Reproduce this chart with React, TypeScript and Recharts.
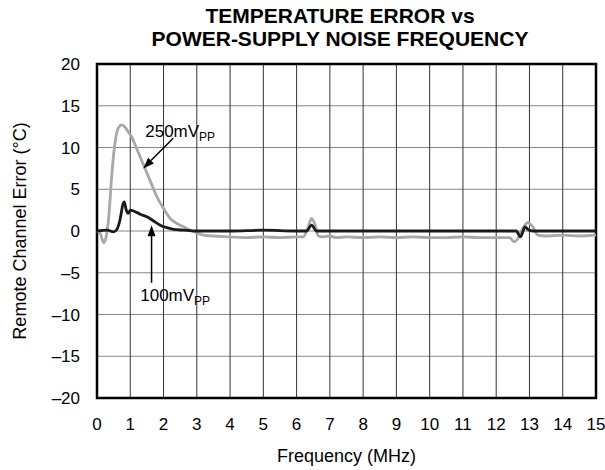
import React from 'react';
import {
  LineChart,
  Line,
  XAxis,
  YAxis,
  CartesianGrid,
  ReferenceLine,
  ReferenceDot,
  ReferenceArea,
  Label,
} from 'recharts';

// 250mVpp noise (grey trace)
const freq250 = [
  0, 0.1, 0.2, 0.27, 0.35, 0.45, 0.55, 0.65, 0.75, 0.85, 0.95, 1.05, 1.2, 1.4, 1.6, 1.8, 2.0,
  2.2, 2.4, 2.6, 2.8, 3.0, 3.2, 3.5, 4.0, 4.5, 5.0, 5.5, 6.0, 6.2, 6.35, 6.45, 6.55, 6.65, 6.8,
  7.0, 7.2, 7.5, 8.0, 8.5, 9.0, 9.5, 10.0, 10.5, 11.0, 11.5, 12.0, 12.4, 12.55, 12.65, 12.8,
  12.95, 13.1, 13.25, 13.5, 14.0, 14.5, 15.0,
];
const err250 = [
  0, -0.3, -1.4, -0.8, 1.5, 7, 10.8, 12.4, 12.7, 12.4, 11.8, 11.2, 9.8, 7.9, 6.0, 4.1, 2.7,
  1.5, 0.9, 0.5, 0.1, -0.2, -0.5, -0.6, -0.7, -0.8, -0.7, -0.8, -0.7, -0.7, 0.5, 1.5, 0.8, -0.6,
  -0.7, -0.6, -0.8, -0.7, -0.8, -0.7, -0.8, -0.7, -0.8, -0.8, -0.7, -0.8, -0.8, -0.8, -1.3, -0.9,
  0.3, 1.0, 0.5, -0.5, -0.6, -0.5, -0.6, -0.5,
];

// 100mVpp noise (black trace)
const freq100 = [
  0, 0.3, 0.5, 0.6, 0.7, 0.78, 0.82, 0.88, 0.94, 1.0, 1.1, 1.3, 1.5, 1.7, 1.9, 2.1, 2.3, 2.6,
  3.0, 4.0, 5.0, 6.0, 6.3, 6.45, 6.6, 7.0, 8.0, 9.0, 10.0, 11.0, 12.0, 12.6, 12.73, 12.87, 12.95,
  13.1, 14.0, 15.0,
];
const err100 = [
  0, 0.1, -0.1, 0.2, 1.5, 3.2, 3.5, 2.5, 2.1, 2.5, 2.4, 2.0, 1.7, 1.2, 0.7, 0.4, 0.2, 0.1,
  0, 0, 0.1, 0, 0, 0.7, 0, 0, 0, 0, 0, 0, 0, 0, -0.7, 0.5, 0.2,
  0, 0, 0,
];

const xTicks = [0, 1, 2, 3, 4, 5, 6, 7, 8, 9, 10, 11, 12, 13, 14, 15];
const yTicks = [-20, -15, -10, -5, 0, 5, 10, 15, 20];

const data250 = freq250.map((f, i) => ({ f, v: err250[i] }));
const data100 = freq100.map((f, i) => ({ f, v: err100[i] }));

const font = 'Liberation Sans, Arial, Helvetica, sans-serif';

function Arrow(props: any) {
  const { x1, y1, x2, y2 } = props;
  const a = Math.atan2(y2 - y1, x2 - x1);
  const len = 11;
  const w = 4;
  const bx = x2 - len * Math.cos(a);
  const by = y2 - len * Math.sin(a);
  const px = -Math.sin(a) * w;
  const py = Math.cos(a) * w;
  return (
    <g>
      <line x1={x1} y1={y1} x2={bx} y2={by} stroke="#000" strokeWidth={1.5} />
      <polygon points={`${x2},${y2} ${bx + px},${by + py} ${bx - px},${by - py}`} fill="#000" />
    </g>
  );
}

function labelShape(text: string) {
  return (p: any) => (
    <text x={p.cx} y={p.cy} fontFamily={font} fontSize={17} fill="#000">
      {text}
      <tspan dy={4} fontSize={12}>PP</tspan>
    </text>
  );
}

export default function App() {
  return (
    <div style={{ position: 'relative', width: 605, height: 470, background: '#fff' }}>
      <style>{`body{margin:0}`}</style>
      <div
        style={{
          position: 'absolute',
          left: 0,
          top: 4,
          width: 680,
          textAlign: 'center',
          fontFamily: font,
          fontWeight: 'bold',
          fontSize: 21,
          lineHeight: '23px',
        }}
      >
        TEMPERATURE ERROR vs
        <br />
        POWER-SUPPLY NOISE FREQUENCY
      </div>
      <LineChart width={605} height={470} margin={{ top: 64, right: 9, left: 0, bottom: 0 }}>
        <CartesianGrid horizontal={true} vertical={false} stroke="#888" strokeWidth={1} />
        <CartesianGrid horizontal={false} vertical={true} stroke="#333" strokeWidth={1} />
        <XAxis
          type="number"
          dataKey="f"
          domain={[0, 15]}
          ticks={xTicks}
          allowDuplicatedCategory={false}
          axisLine={false}
          tickLine={false}
          tickSize={0}
          tickMargin={20}
          height={72}
          tick={{ fontFamily: font, fontSize: 17, fill: '#000' }}
        >
          <Label
            value="Frequency (MHz)"
            position="insideBottom"
            offset={8}
            style={{ fontFamily: font, fontSize: 18, fill: '#000' }}
          />
        </XAxis>
        <YAxis
          type="number"
          domain={[-20, 20]}
          ticks={yTicks}
          axisLine={false}
          tickLine={false}
          tickSize={0}
          tickMargin={17}
          width={97}
          tickFormatter={(v: number) => (v < 0 ? `\u2013${Math.abs(v)}` : `${v}`)}
          tick={{ fontFamily: font, fontSize: 17, fill: '#000' }}
        >
          <Label
            value="Remote Channel Error (°C)"
            angle={-90}
            position="insideLeft"
            offset={20}
            style={{ fontFamily: font, fontSize: 18, fill: '#000', textAnchor: 'middle' }}
          />
        </YAxis>
        <ReferenceArea
          x1={0}
          x2={15}
          y1={-20}
          y2={20}
          fill="none"
          stroke="#000"
          strokeWidth={2.5}
          ifOverflow="visible"
        />
        <Line
          data={data250}
          dataKey="v"
          type="monotone"
          stroke="#a8a8a8"
          strokeWidth={2.8}
          dot={false}
          isAnimationActive={false}
        />
        <Line
          data={data100}
          dataKey="v"
          type="monotone"
          stroke="#1a1a1a"
          strokeWidth={2.8}
          dot={false}
          isAnimationActive={false}
        />
        <ReferenceLine
          segment={[
            { x: 2.29, y: 11.1 },
            { x: 1.39, y: 7.5 },
          ]}
          shape={Arrow}
        />
        <ReferenceLine
          segment={[
            { x: 1.64, y: -6.2 },
            { x: 1.64, y: 0.7 },
          ]}
          shape={Arrow}
        />
        <ReferenceDot x={1.45} y={11.3} r={0} shape={labelShape('250mV')} />
        <ReferenceDot x={1.3} y={-8.4} r={0} shape={labelShape('100mV')} />
      </LineChart>
    </div>
  );
}
